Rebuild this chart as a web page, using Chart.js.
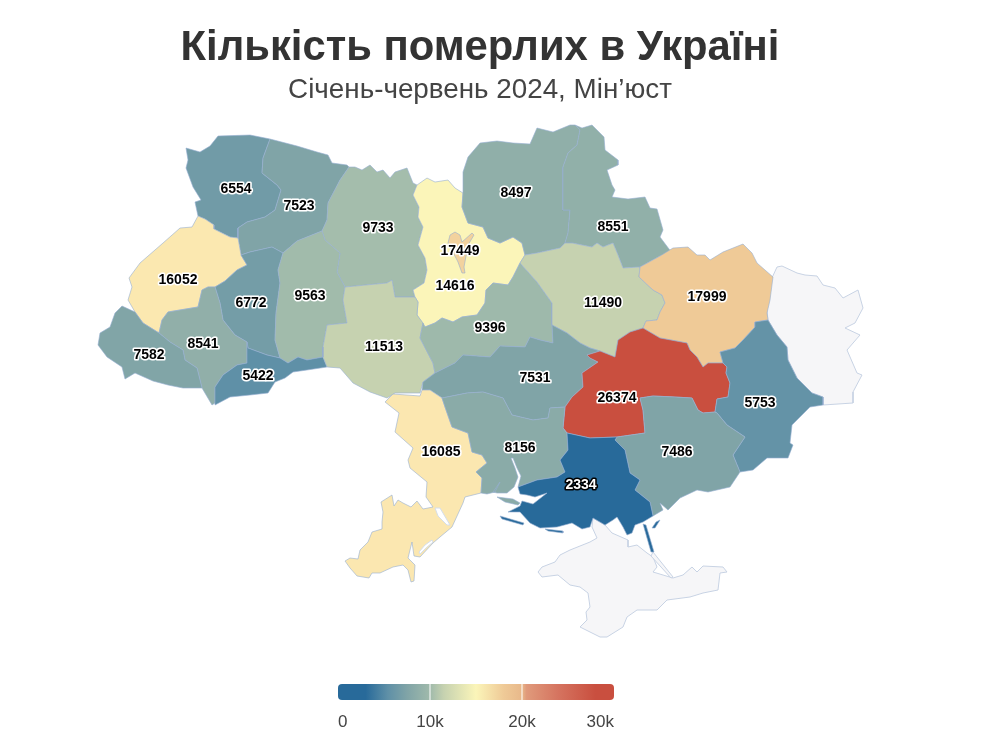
<!DOCTYPE html>
<html lang="uk">
<head>
<meta charset="utf-8">
<title>Кількість померлих в Україні</title>
<script src="https://cdn.jsdelivr.net/npm/chart.js@4/dist/chart.umd.min.js"></script>
<style>
    html, body { margin: 0; padding: 0; background: #fff; }
    #wrap { width: 960px; height: 748px; }
</style>
</head>
<body>
<div id="wrap"><canvas id="map" width="960" height="748"></canvas></div>
<script>
const titleText = 'Кількість померлих в Україні';
const subtitleText = 'Січень-червень 2024, Мін’юст';

// Values per oblast
const regionNames = ['Волинська', 'Рівненська', 'Житомирська', 'м. Київ', 'Київська', 'Чернігівська', 'Сумська', 'Львівська', 'Тернопільська', 'Хмельницька', 'Івано-Франківська', 'Закарпатська', 'Чернівецька', 'Вінницька', 'Черкаська', 'Полтавська', 'Харківська', 'Кіровоградська', 'Дніпропетровська', 'Донецька', 'Одеська', 'Миколаївська', 'Запорізька', 'Херсонська'];
const regionValues = [6554, 7523, 9733, 17449, 14616, 8497, 8551, 16052, 6772, 9563, 8541, 7582, 5422, 11513, 9396, 11490, 17999, 7531, 26374, 5753, 16085, 8156, 7486, 2334];

// Where each value label sits, in map units
const labelX = [236, 299, 378, 460, 455, 516, 613, 178, 251, 310, 203, 149, 258, 384, 490, 603, 707, 535, 617, 760, 441, 520, 677, 581];
const labelY = [189, 206, 228, 251, 286, 193, 227, 280, 303, 296, 344, 355, 376, 347, 328, 303, 297, 378, 398, 403, 452, 448, 452, 485];

// Oblast outlines as x,y pairs in map units
const volyn = [186,148, 200,152, 210,146, 218,136, 250,135, 270,139, 263,158, 262,173, 277,185, 281,190, 275,210, 265,217, 247,222, 238,228, 238,238, 230,237, 214,229, 214,225, 205,219, 198,216, 195,202, 201,200, 193,187, 186,168, 188,160];
const rivne = [238,238, 241,255, 250,252, 272,247, 283,253, 297,241, 322,231, 327,220, 328,203, 340,180, 349,167, 347,165, 332,163, 328,155, 317,152, 297,146, 270,139, 263,158, 262,173, 277,185, 281,190, 275,210, 265,217, 247,222, 238,228];
const zhytomyr = [349,167, 355,167, 362,170, 370,165, 377,172, 383,170, 390,178, 395,172, 407,168, 413,183, 417,185, 413,195, 419,207, 418,217, 423,227, 418,245, 425,258, 427,270, 424,283, 413,290, 415,297, 395,297, 392,280, 387,283, 345,287, 337,272, 340,253, 325,240, 322,231, 327,220, 328,203, 340,180];
const kyivCity = [450,235, 455,232, 460,235, 462,242, 472,233, 474,235, 468,245, 464,267, 465,273, 462,273, 458,262, 457,260, 448,243];
const kyivOblast = [417,185, 427,178, 435,182, 448,180, 455,188, 463,193, 462,207, 468,223, 483,227, 488,238, 500,243, 513,237, 522,243, 525,255, 520,263, 513,277, 508,285, 493,283, 486,290, 485,303, 477,315, 462,317, 453,322, 442,318, 435,323, 425,327, 417,315, 418,302, 415,297, 413,290, 424,283, 427,270, 425,258, 418,245, 423,227, 418,217, 419,207, 413,195];
const chernihiv = [463,193, 463,172, 468,157, 480,143, 497,141, 513,143, 530,144, 537,128, 553,132, 570,125, 575,125, 580,130, 577,145, 568,153, 563,167, 563,210, 570,210, 568,233, 565,243, 560,248, 537,253, 525,255, 522,243, 513,237, 500,243, 488,238, 483,227, 468,223, 462,207];
const sumy = [575,125, 582,128, 592,125, 604,137, 605,150, 618,160, 618,165, 607,170, 612,185, 615,190, 612,197, 628,199, 645,197, 650,208, 657,209, 663,230, 660,237, 672,253, 660,256, 640,267, 623,268, 618,255, 613,243, 603,247, 597,243, 592,247, 572,243, 565,243, 568,233, 570,210, 563,210, 563,167, 568,153, 577,145, 580,130];
const lviv = [198,216, 205,219, 214,225, 214,229, 230,237, 238,238, 241,255, 247,265, 237,270, 225,281, 215,287, 208,287, 202,290, 198,307, 168,312, 162,320, 159,333, 143,323, 135,312, 128,300, 132,287, 129,278, 140,263, 163,243, 180,228, 192,227];
const ternopil = [241,255, 250,252, 272,247, 283,253, 278,270, 280,283, 276,313, 275,340, 280,358, 267,355, 248,348, 247,342, 235,335, 223,320, 220,303, 215,287, 225,281, 237,270, 247,265];
const khmelnytskyi = [283,253, 297,241, 322,231, 325,240, 340,253, 337,272, 345,287, 343,300, 347,323, 327,325, 323,347, 323,357, 307,360, 298,357, 288,363, 280,358, 275,340, 276,313, 280,283, 278,270];
const frankivsk = [215,287, 208,287, 202,290, 198,307, 168,312, 162,320, 159,333, 170,342, 183,350, 185,360, 197,368, 202,388, 212,405, 215,403, 215,387, 223,375, 237,365, 247,363, 247,342, 235,335, 223,320, 220,303];
const zakarpattia = [122,306, 135,312, 143,323, 159,333, 170,342, 183,350, 185,360, 197,368, 202,388, 183,388, 168,385, 153,381, 135,373, 125,379, 122,367, 107,357, 98,345, 100,333, 110,327, 115,313];
const chernivtsi = [247,342, 248,348, 267,355, 280,358, 288,363, 298,357, 307,360, 323,357, 327,367, 307,370, 293,372, 285,378, 275,382, 268,393, 250,395, 230,397, 215,405, 215,387, 223,375, 237,365, 247,363];
const vinnytsia = [345,287, 343,300, 347,323, 327,325, 323,347, 323,357, 327,367, 340,368, 353,383, 370,392, 387,398, 395,393, 420,393, 423,382, 435,373, 433,363, 420,338, 423,323, 417,315, 418,302, 415,297, 395,297, 392,280, 387,283];
const cherkasy = [520,263, 537,282, 552,303, 552,325, 553,343, 540,340, 530,337, 525,347, 500,346, 490,357, 463,355, 455,363, 435,373, 433,363, 420,338, 423,323, 425,327, 435,323, 442,318, 453,322, 462,317, 477,315, 485,303, 486,290, 493,283, 508,285, 513,277];
const poltava = [525,255, 537,253, 560,248, 565,243, 572,243, 592,247, 597,243, 603,247, 613,243, 618,255, 623,268, 640,267, 639,277, 653,290, 662,295, 665,303, 660,312, 657,320, 646,321, 643,328, 630,332, 618,340, 615,357, 600,351, 590,348, 580,343, 567,333, 552,325, 552,303, 537,282, 520,263];
const kharkiv = [640,267, 660,256, 673,248, 688,247, 697,255, 705,255, 710,260, 723,252, 743,244, 752,253, 757,263, 773,277, 770,300, 767,313, 768,320, 755,322, 755,327, 743,340, 735,348, 720,352, 723,363, 708,363, 703,367, 697,357, 690,350, 687,343, 660,338, 643,328, 646,321, 657,320, 660,312, 665,303, 662,295, 653,290, 639,277];
const kirovohrad = [435,373, 455,363, 463,355, 490,357, 500,346, 525,347, 530,337, 540,340, 553,343, 552,325, 567,333, 580,343, 590,348, 600,351, 587,355, 590,358, 598,362, 582,373, 583,387, 572,397, 565,407, 550,408, 548,418, 533,420, 512,415, 503,398, 483,392, 467,393, 442,398, 430,390, 422,390, 423,382];
const dnipro = [587,355, 600,351, 615,357, 618,340, 630,332, 643,328, 660,338, 687,343, 690,350, 697,357, 703,367, 708,363, 723,363, 727,367, 726,373, 730,383, 728,397, 717,399, 715,412, 703,413, 698,410, 692,398, 675,397, 653,396, 640,398, 643,410, 645,433, 617,437, 590,438, 567,433, 563,428, 565,407, 572,397, 583,387, 582,373, 598,362, 590,358];
const donetsk = [720,352, 735,348, 743,340, 755,327, 755,322, 768,320, 777,335, 787,347, 788,360, 797,378, 812,393, 823,397, 823,405, 810,407, 792,425, 790,443, 793,445, 788,458, 767,458, 753,470, 740,472, 733,455, 745,437, 727,425, 717,413, 715,412, 717,399, 728,397, 730,383, 726,373, 727,367, 723,363];
const odesa = [385,402, 393,394, 420,396, 422,390, 430,390, 442,398, 445,407, 452,427, 468,433, 472,452, 482,455, 487,463, 476,472, 482,478, 481,493, 465,497, 463,503, 452,527, 440,537, 433,543, 420,557, 414,556, 412,542, 408,558, 415,565, 414,581, 411,582, 408,570, 403,565, 393,567, 380,573, 372,573, 369,578, 357,576, 350,568, 345,561, 350,558, 358,559, 360,550, 368,542, 372,532, 382,529, 382,522, 383,512, 381,502, 392,495, 394,506, 398,500, 403,503, 411,507, 417,501, 423,509, 433,507, 426,497, 427,482, 410,468, 408,460, 413,448, 395,432, 399,413];
const mykolaiv = [442,398, 467,393, 483,392, 503,398, 512,415, 533,420, 548,418, 550,408, 565,407, 563,428, 567,433, 568,450, 560,460, 565,472, 557,477, 537,480, 518,487, 521,476, 517,468, 513,458, 511,458, 515,468, 518,477, 514,487, 507,493, 497,493, 493,492, 500,482, 495,492, 487,494, 481,493, 482,478, 476,472, 487,463, 482,455, 472,452, 468,433, 452,427, 445,407];
const kinburn = [497,497, 513,499, 520,503, 518,505, 505,502];
const zaporizhzhia = [640,398, 653,396, 675,397, 692,398, 698,410, 703,413, 715,412, 717,413, 727,425, 745,437, 733,455, 740,472, 730,487, 708,492, 697,490, 680,498, 668,510, 660,503, 663,510, 653,516, 650,502, 635,490, 640,480, 630,473, 625,450, 615,440, 617,437, 645,433, 643,410];
const kherson = [567,433, 590,438, 617,437, 615,440, 625,450, 630,473, 640,480, 635,490, 650,502, 653,516, 643,522, 635,525, 632,533, 627,535, 623,527, 617,517, 613,520, 605,525, 593,518, 590,527, 582,529, 572,523, 557,527, 540,528, 530,523, 520,512, 508,512, 520,506, 522,501, 533,504, 547,493, 535,497, 527,495, 520,494, 518,487, 537,480, 557,477, 565,472, 560,460, 568,450];
const arabatSouth = [643,524, 646,525, 654,552, 651,552];
const tendra = [500,516, 524,523, 523,525, 502,519];
const dzharylhach = [545,529, 563,531, 563,533, 548,531];
const fedotova = [652,528, 656,522, 660,520, 655,528];

// Territories without data
const luhansk = [768,320, 767,310, 771,280, 777,267, 782,266, 797,273, 805,275, 817,276, 823,285, 835,288, 843,298, 858,290, 863,308, 855,323, 845,328, 860,335, 847,350, 857,373, 862,375, 853,392, 853,403, 823,405, 823,397, 812,393, 797,378, 788,360, 787,347, 777,335];
const crimea = [538,572, 542,567, 555,562, 560,555, 570,550, 590,542, 597,538, 592,527, 593,518, 605,525, 612,533, 628,540, 628,547, 637,545, 647,553, 653,557, 657,567, 653,572, 673,578, 683,575, 692,567, 697,572, 703,566, 723,567, 727,572, 720,573, 718,590, 703,593, 690,597, 667,600, 657,610, 637,610, 627,617, 623,627, 607,637, 600,637, 590,632, 580,627, 587,620, 586,612, 590,607, 588,593, 580,587, 570,585, 558,575, 542,577];
const arabatNorth = [653,552, 673,577, 671,578, 651,556];

// Water inside Odesa oblast, painted over it
const dniesterLiman = [435,508, 440,508, 450,525, 447,525, 438,516];
const sasykLake = [419,552, 425,545, 432,540, 433,542, 426,548, 420,554];

const regionOutlines = [[volyn], [rivne], [zhytomyr], [kyivCity], [kyivOblast], [chernihiv], [sumy], [lviv], [ternopil], [khmelnytskyi], [frankivsk], [zakarpattia], [chernivtsi], [vinnytsia], [cherkasy], [poltava], [kharkiv], [kirovohrad], [dnipro], [donetsk], [odesa], [mykolaiv, kinburn], [zaporizhzhia], [kherson, arabatSouth, tendra, dzharylhach, fedotova]];
const noDataOutlines = [luhansk, crimea, arabatNorth];
const waterOutlines = [dniesterLiman, sasykLake];

// Colour key
const rampValues = [2334, 5422, 7500, 9500, 11500, 14616, 16052, 18000, 26374];
const rampColors = ['#286a9a', '#5f90a7', '#80a4a7', '#a0baab', '#c6d2b0', '#fbf5b9', '#fbe8b0', '#efca97', '#c94f3f'];
const keyTicks = [0, 10000, 20000, 30000];
const keyTickLabels = ['0', '10k', '20k', '30k'];
const keyStopValues = [0, 3000, 5422, 7500, 10000, 11500, 15000, 18000, 20000, 20500, 24000, 28000, 30000];
const keyStopColors = ['#286a9a', '#286a9a', '#5f90a7', '#80a4a7', '#a0baab', '#c6d2b0', '#fbf5b9', '#efca97', '#e8b88a', '#e09a7b', '#d5735f', '#c94f3f', '#c94f3f'];

function hexToRgb(hex) {
    return [1, 3, 5].map(i => parseInt(hex.slice(i, i + 2), 16));
}

function valueColor(value) {
    let i = 0;
    while (i < rampValues.length - 2 && value > rampValues[i + 1]) i++;
    const t = Math.min(1, Math.max(0, (value - rampValues[i]) / (rampValues[i + 1] - rampValues[i])));
    const a = hexToRgb(rampColors[i]);
    const b = hexToRgb(rampColors[i + 1]);
    const rgb = a.map((c, k) => Math.round(c + (b[k] - c) * t));
    return `rgb(${rgb.join(',')})`;
}

function toPoints(flat) {
    const points = [];
    for (let i = 0; i < flat.length; i += 2) {
        points.push({ x: flat[i], y: flat[i + 1] });
    }
    points.push({ x: flat[0], y: flat[1] }); // close the ring
    return points;
}

const datasets = [];

function addShape(label, flat, fillColor, borderColor) {
    datasets.push({
        label,
        data: toPoints(flat),
        showLine: true,
        fill: 'shape',
        backgroundColor: fillColor,
        borderColor,
        borderWidth: 1,
        borderJoinStyle: 'round',
        pointRadius: 0,
        tension: 0,
    });
}

noDataOutlines.forEach(flat => addShape('Немає даних', flat, '#f6f6f8', '#c8d3e4'));

// м. Київ has to sit on top of the oblast around it
regionNames.map((name, i) => i).sort((a, b) => (a === 3 ? 1 : 0) - (b === 3 ? 1 : 0)).forEach(i => {
    regionOutlines[i].forEach(flat => addShape(regionNames[i], flat, valueColor(regionValues[i]), 'rgba(150,175,210,0.6)'));
});

waterOutlines.forEach(flat => addShape('Вода', flat, '#fff', '#d5deea'));

// Later datasets must paint over earlier ones
datasets.forEach((d, i) => { d.order = datasets.length - i; });

const valueLabels = {
    id: 'valueLabels',
    afterDatasetsDraw(chart) {
        const { ctx, scales } = chart;
        ctx.save();
        ctx.font = 'bold 14px "Liberation Sans", Arial, sans-serif';
        ctx.textAlign = 'center';
        ctx.textBaseline = 'middle';
        ctx.lineJoin = 'round';
        regionValues.forEach((value, i) => {
            const x = scales.x.getPixelForValue(labelX[i]);
            const y = scales.y.getPixelForValue(labelY[i]);
            const dark = value < 3000;
            ctx.lineWidth = 3.2;
            ctx.strokeStyle = dark ? '#000' : '#fff';
            ctx.strokeText(String(value), x, y);
            ctx.fillStyle = dark ? '#fff' : '#000';
            ctx.fillText(String(value), x, y);
        });
        ctx.restore();
    }
};

const colorKey = {
    id: 'colorKey',
    afterDraw(chart) {
        const { ctx, scales } = chart;
        const left = scales.x.getPixelForValue(338);
        const right = scales.x.getPixelForValue(614);
        const top = scales.y.getPixelForValue(684);
        const bottom = scales.y.getPixelForValue(700);
        const px = v => left + (right - left) * v / 30000;
        const gradient = ctx.createLinearGradient(left, 0, right, 0);
        keyStopValues.forEach((v, i) => gradient.addColorStop(v / 30000, keyStopColors[i]));
        ctx.save();
        ctx.fillStyle = gradient;
        ctx.beginPath();
        ctx.roundRect(left, top, right - left, bottom - top, 4);
        ctx.fill();
        ctx.fillStyle = '#fff';
        ctx.fillRect(px(10000) - 0.5, top, 1, bottom - top);
        ctx.fillRect(px(20000) - 0.5, top, 1, bottom - top);
        ctx.font = '17px "Liberation Sans", Arial, sans-serif';
        ctx.fillStyle = '#444';
        ctx.textBaseline = 'middle';
        keyTicks.forEach((v, i) => {
            ctx.textAlign = i === 0 ? 'left' : i === keyTicks.length - 1 ? 'right' : 'center';
            ctx.fillText(keyTickLabels[i], px(v), scales.y.getPixelForValue(722));
        });
        ctx.restore();
    }
};

new Chart(document.getElementById('map').getContext('2d'), {
    type: 'scatter',
    data: { datasets },
    plugins: [valueLabels, colorKey],
    options: {
        responsive: false,
        animation: false,
        events: [],
        layout: { padding: 0 },
        plugins: {
            legend: { display: false },
            tooltip: { enabled: false },
            title: {
                display: true,
                text: titleText,
                color: '#333',
                font: { family: '"Liberation Sans", Arial, sans-serif', size: 41.8, weight: 'bold', lineHeight: 1.2 },
                padding: { top: 23, bottom: 0 },
            },
            subtitle: {
                display: true,
                text: subtitleText,
                color: '#444',
                font: { family: '"Liberation Sans", Arial, sans-serif', size: 27.8, weight: 'normal', lineHeight: 1.2 },
                padding: { top: 0, bottom: 3.5 },
            },
        },
        scales: {
            x: { type: 'linear', display: false, min: 0, max: 960 },
            y: { type: 'linear', display: false, reverse: true, min: 110, max: 748 },
        },
    },
});
</script>
</body>
</html>
